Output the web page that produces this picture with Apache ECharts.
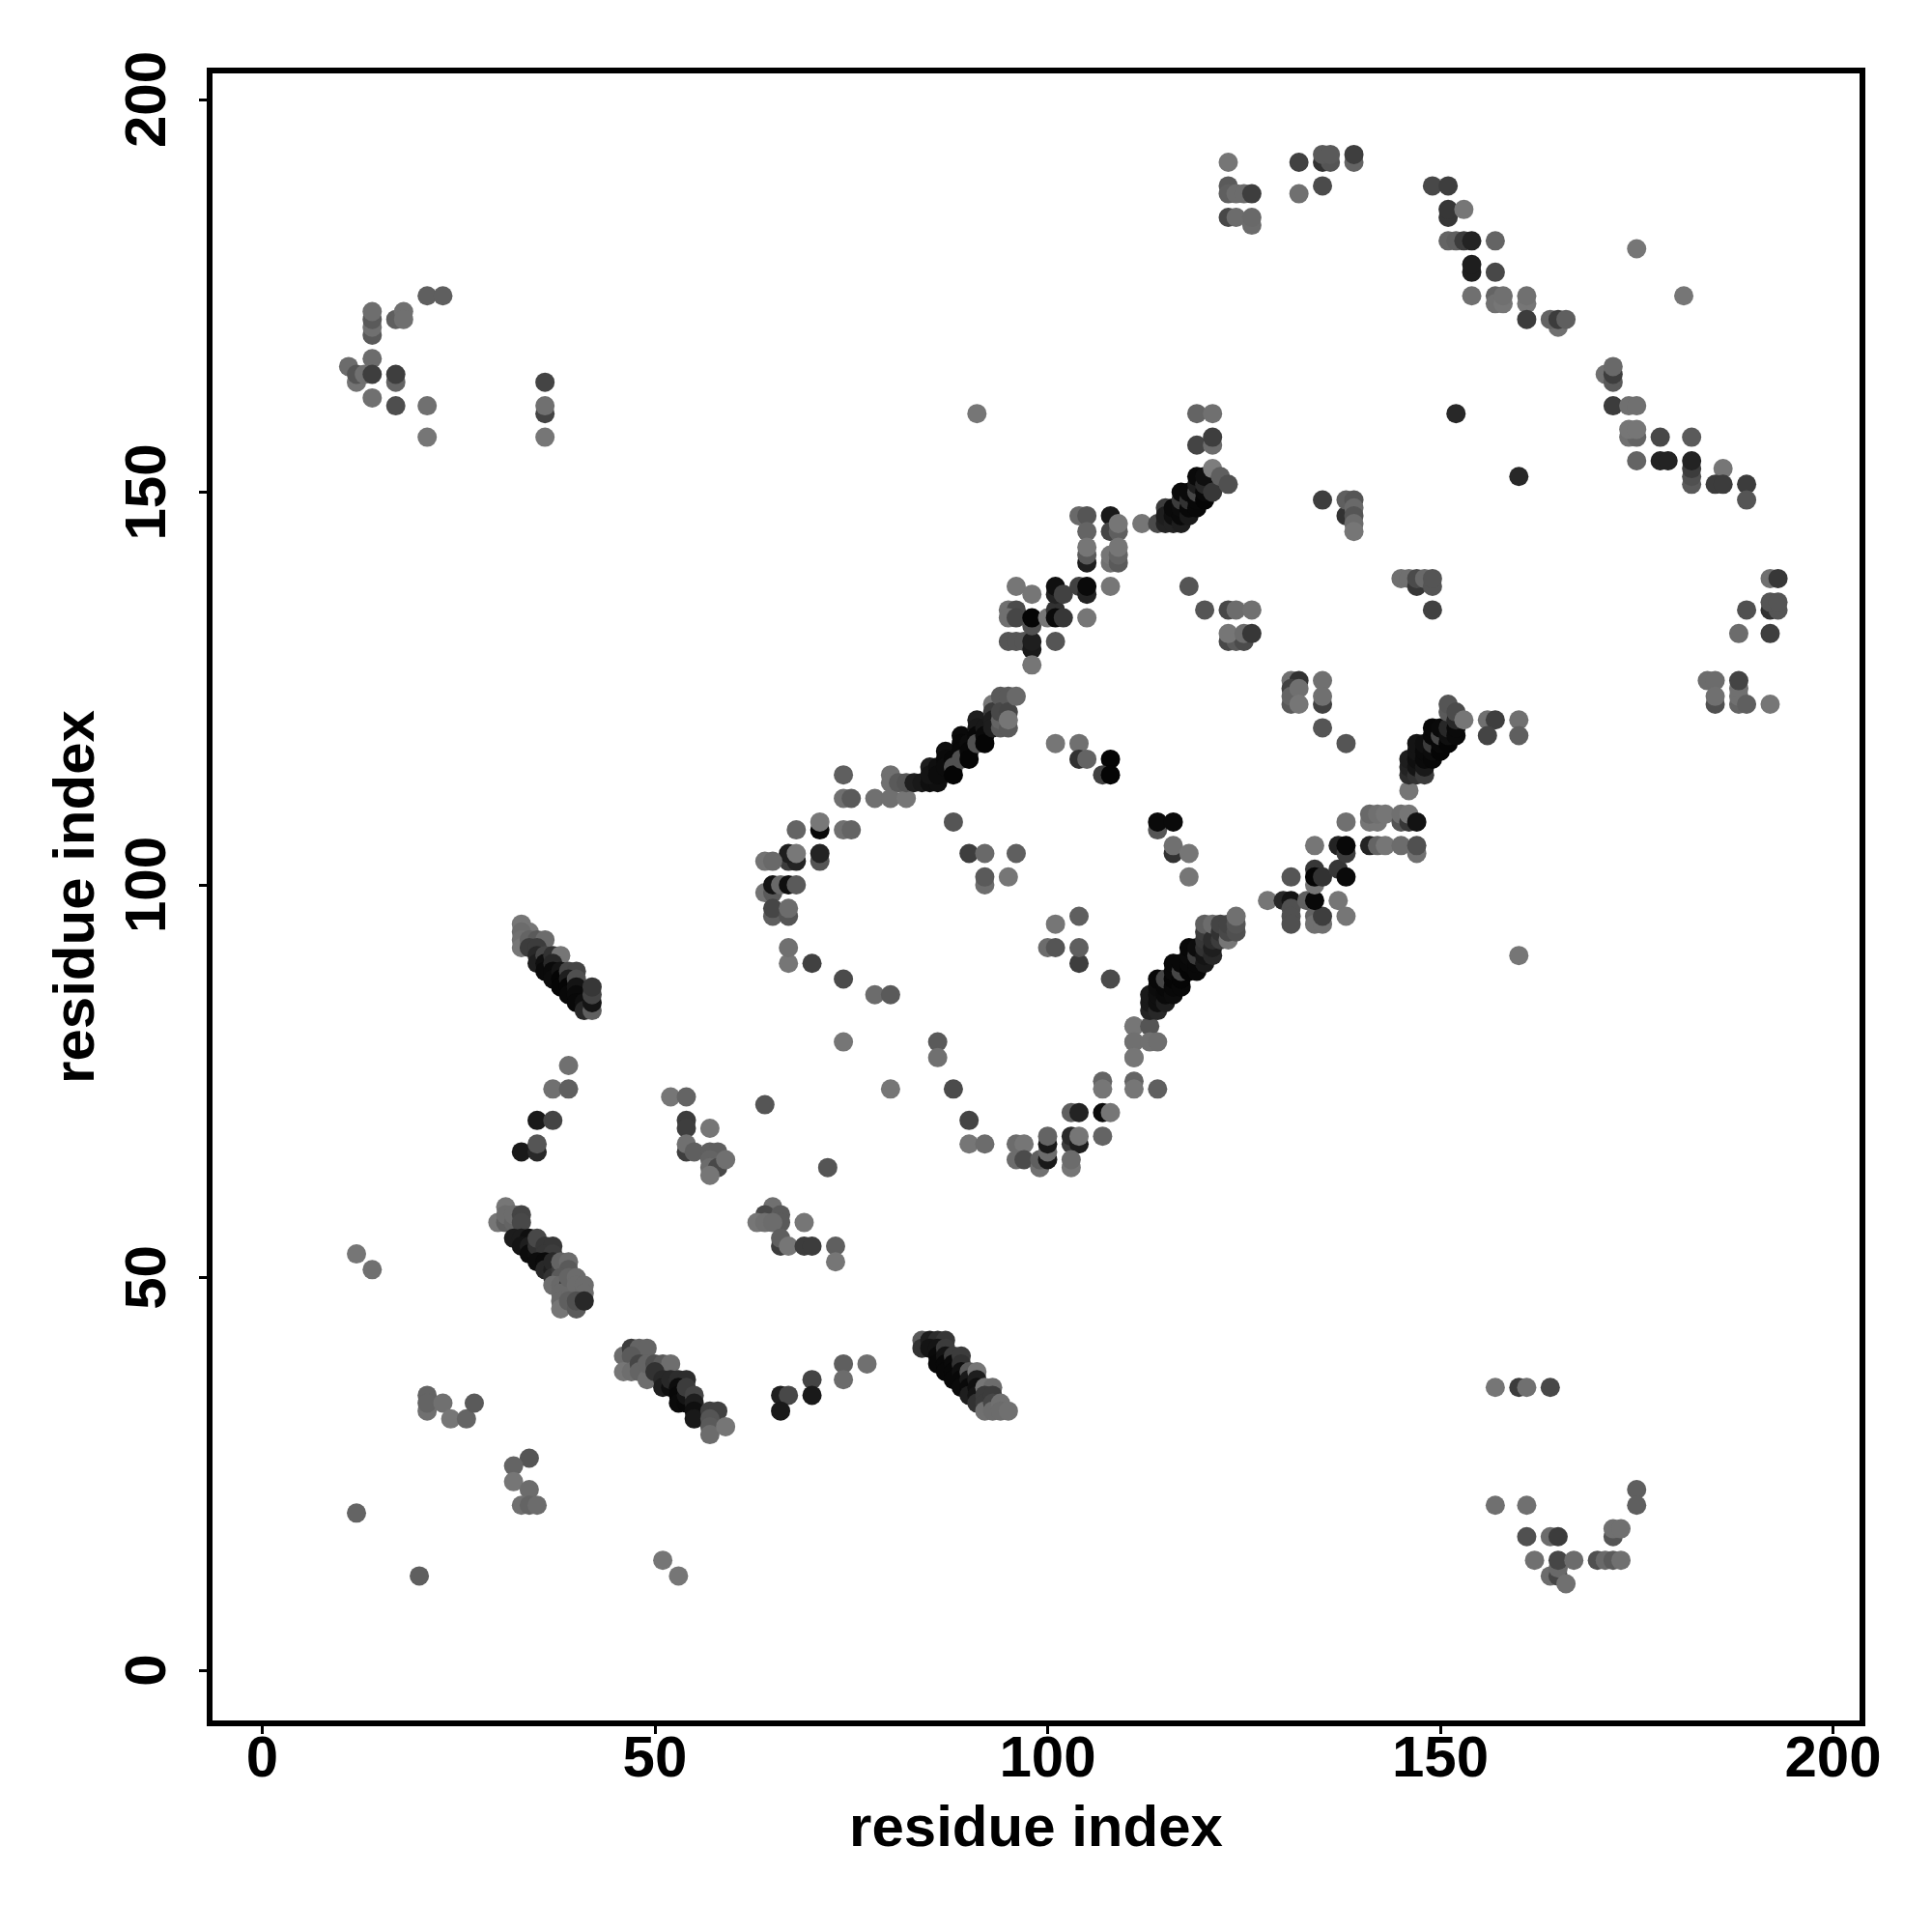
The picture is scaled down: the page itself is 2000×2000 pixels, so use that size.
<!DOCTYPE html>
<html><head><meta charset="utf-8">
<style>html,body{margin:0;padding:0;background:#fff}#c{width:2000px;height:2000px}</style>
<script src="https://cdn.jsdelivr.net/npm/echarts@6/dist/echarts.min.js"></script>
</head><body><div id="c"></div>
<script>
// each contact: [residue x, residue y, grey level of the dot]
const tickLabels = [0, 50, 100, 150, 200];
const axisTitle = 'residue index';
const topLeft = [[21,175,95],[23,175,95],[14,170,90],[14,171,112],[14,172,90],[14,173,110],[17,172,95],[18,173,112],[18,172,112],
 [14,167,108],[11,166,108],[12,164,115],[12,165,85],[13,165,112],[14,165,62],[17,164,100],[17,165,62],[14,162,112],[17,161,78],[21,161,112],[21,157,118],
 [36,164,68],[36,160,68],[36,161,112],[36,157,118]];
const lowLeft = [[12,53,118],[14,51,112],[21,35,100],[21,33,112],[21,34,100],[23,34,112],[24,32,118],[26,32,100],[27,34,90],
 [34,27,85],[32,26,100],[32,24,118],[34,23,108],[33,21,112],[34,21,100],[35,21,108],[12,20,100],[20,12,95],[51,14,118],[53,12,118]];
const bandA = [[31,59,118],[30,57,118],[31,57,95],[31,58,108],[32,57,100],[32,58,108],[33,58,68],[33,57,72],
 [32,55,28],[33,55,28],[34,55,15],[33,54,20],[34,54,30],[34,53,12],[35,53,15],[35,54,50],[35,55,72],[36,54,55],[37,54,55],[36,53,55],[37,53,60],
 [35,52,12],[36,52,10],[36,51,40],[37,51,30],[37,52,40],[37,50,50],[38,51,60],[38,52,100],[39,52,108],[39,51,90],[38,50,90],[37,49,110],[38,49,105],[39,49,60],
 [39,48,90],[38,48,105],[38,47,105],[38,46,118],[39,50,100],[40,50,108],[40,49,108],[41,49,108],[41,48,108],[39,47,95],[40,46,90],[40,47,80],[41,47,40]];
const bandB = [[46,40,108],[47,41,60],[48,41,100],[49,41,100],[47,40,90],[46,38,118],[47,38,110],[48,39,70],[48,38,100],[49,37,110],[49,39,100],
 [50,39,80],[51,39,90],[52,39,110],[50,38,50],[51,37,40],[51,36,30],[52,36,15],[52,37,40],[53,37,45],[54,37,45],[53,36,12],[53,35,8],[53,34,10],[54,34,8],[54,35,20],
 [54,36,60],[55,35,68],[55,34,30],[55,33,15],[55,32,25],[57,33,65],[58,33,65],[57,32,85],[57,31,90],[57,30,108],[59,31,118]];
const bandC = [[33,95,118],[34,94,118],[33,94,108],[33,93,112],[33,92,118],[34,93,100],[35,93,90],[36,93,108],[34,92,60],[35,92,60],[35,91,40],[35,90,30],
 [36,91,70],[36,90,15],[36,89,10],[37,91,50],[38,91,118],[37,90,40],[37,89,10],[37,88,12],[38,89,20],[38,88,5],[38,87,5],[39,89,70],[40,89,68],[39,88,30],[39,87,5],[39,86,8],
 [40,88,80],[40,87,20],[40,86,10],[40,85,8],[41,85,15],[41,84,40],[42,84,95],[42,85,20],[42,86,68],[42,87,55]];
const midLeft = [[39,77,112],[37,74,112],[39,74,95],[35,70,25],[37,70,68],[33,66,25],[35,66,40],[35,67,85],
 [52,73,118],[54,73,100],[54,70,60],[54,69,62],[57,69,118],[54,66,62],[54,67,112],[55,66,95],[57,66,95],[58,66,95],[57,65,100],[57,64,108],[58,64,72],[59,65,112],[57,63,118],
 [64,72,85],[72,64,85]];
const clusterLow = [[65,59,112],[64,58,72],[63,57,118],[64,57,112],[66,58,90],[66,57,90],[65,57,108],[69,57,118],[66,54,60],[66,55,95],[67,54,118],[69,54,60],[70,54,60],[73,54,95],[73,52,118]];
const curveLow = [[74,39,95],[77,39,112],[74,37,108],[70,37,68],[70,35,25],[66,35,30],[67,35,72],[66,33,25],
 [74,80,118],[74,88,75],[70,90,65],[67,90,118],[67,92,112],[78,86,108],[80,86,90],[86,80,90],[86,78,112],[80,74,118],[88,74,75],[90,70,68],[90,67,118],[92,67,108],
 [96,67,108],[97,67,118],[96,65,108],[97,65,75],[99,64,112],[99,65,95],[100,65,25],[100,66,108],[100,67,25],[100,68,100],
 [103,71,95],[104,71,35],[103,67,60],[103,68,42],[104,67,30],[104,68,118],[103,64,118],[103,65,108],[107,71,12],[108,71,118],[107,68,100],[107,75,100],[107,74,118],
 [111,75,100],[111,74,118],[111,78,118],[111,80,112],[111,82,118],[114,74,95]];
const bandD = [[84,42,90],[84,41,50],[85,42,30],[86,42,45],[87,42,55],[85,41,20],[86,41,20],[86,40,10],[86,39,8],[87,41,60],[87,40,20],[87,39,8],[87,38,8],
 [88,40,60],[88,39,10],[88,38,8],[88,37,8],[89,40,60],[89,39,50],[89,38,15],[89,37,8],[89,36,10],[90,38,90],[90,37,25],[90,36,10],[90,35,30],[91,38,118],[91,37,30],[91,36,15],[91,35,20],[91,34,50],
 [92,36,118],[93,36,108],[92,35,60],[92,34,60],[92,33,112],[93,35,60],[93,34,70],[93,33,108],[94,34,112],[94,33,108],[95,33,112]];
const upperLeftArc = [[74,114,95],[74,111,112],[75,111,90],[74,107,112],[75,107,100],[68,107,100],[71,107,8],[71,108,120],[67,103,60],[68,103,35],[67,104,30],[68,104,120],
 [71,103,85],[71,104,35],[64,103,115],[65,103,105],[64,99,115],[65,99,90],[65,100,20],[66,100,105],[67,100,15],[68,100,90],[65,96,95],[65,97,70],[67,96,85],[67,97,108]];
const bandE = [[78,111,112],[80,114,112],[80,113,112],[80,111,112],[82,111,118],[81,113,90],[82,113,85],[83,113,30],[84,113,25],[85,113,15],[86,113,15],[85,115,30],[85,114,20],
 [86,115,15],[86,114,12],[87,117,15],[87,116,10],[87,115,12],[88,116,8],[88,115,80],[88,114,5],[89,119,10],[89,118,8],[89,117,8],[89,116,80],[90,118,12],[90,117,8],[90,116,5],[91,121,30],
 [91,120,25],[91,119,8],[91,118,80],[92,120,25],[92,119,10],[92,118,5],[93,123,118],[93,122,60],[93,121,30],[93,120,30],[94,124,90],[94,120,90],[94,121,100],[94,122,72],[95,124,90],[95,122,70],[95,120,90],[95,121,118],[96,124,105]];
const innerA = [[88,108,85],[90,104,62],[92,104,105],[96,104,95],[92,100,110],[92,101,90],[95,101,118],[101,118,118],[104,118,112],[104,116,50],[105,116,100],[108,116,5],[107,114,65],[108,114,5],
 [101,95,118],[104,96,95],[100,92,108],[101,92,85],[104,90,62],[104,92,95],[108,88,75]];
const midCluster = [[91,160,118],[95,135,112],[96,135,75],[95,134,112],[96,134,70],[96,138,118],[98,137,118],[95,131,85],[96,131,85],[97,131,85],[98,130,25],[98,131,30],[98,133,80],[98,134,5],[100,134,118],
 [101,135,50],[101,134,10],[102,134,55],[101,137,35],[101,138,15],[102,137,65],[101,131,85],[105,134,118],[98,128,118],
 [104,138,65],[105,137,35],[105,138,10],[108,138,118],[104,147,105],[105,147,85],[105,145,100],[105,141,30],[105,142,90],[105,143,118],
 [108,147,25],[108,145,70],[109,145,95],[109,146,118],[108,141,112],[108,142,118],[109,141,90],[109,142,100],[109,143,118]];
const bandF = [[112,146,118],[114,146,75],[115,148,60],[115,146,35],[115,147,30],[116,146,35],[116,147,15],[116,148,10],[117,146,30],[117,147,10],[117,148,12],[117,149,60],[117,150,10],[118,147,25],[118,148,8],
 [118,149,50],[118,150,10],[119,148,8],[119,149,8],[119,150,70],[119,151,30],[119,152,10],[120,149,5],[120,150,8],[120,151,40],[120,152,15],[121,150,55],[121,153,125],[122,152,95],[123,151,80],
 [119,160,100],[121,160,112],[119,156,68],[121,156,108],[121,157,62],[118,138,85]];
const rightInner = [[120,135,85],[123,135,72],[124,135,108],[126,135,112],[123,131,72],[124,131,90],[125,131,75],[123,132,118],[125,132,108],[126,132,55],
 [114,107,85],[114,108,10],[116,108,10],[116,104,50],[116,105,112],[118,104,118],[118,101,118],
 [131,126,112],[132,126,50],[131,125,65],[131,123,90],[131,124,100],[132,125,112],[132,123,118],[135,126,112],[135,123,65],[135,124,112],[135,120,85],[138,118,85]];
const bandG = [[111,82,118],[111,80,112],[111,78,118],[113,82,85],[113,80,112],[114,80,110],[113,84,35],[113,85,25],[113,86,25],[114,84,40],[114,85,15],[114,86,15],[114,87,12],[114,88,8],[115,85,30],[115,86,10],[115,87,8],[115,88,70],
 [116,86,12],[116,87,8],[116,88,5],[116,89,8],[116,90,8],[117,87,8],[117,88,5],[117,89,70],[117,90,8],[118,89,5],[118,90,8],[118,91,10],[118,92,8],[119,89,8],[119,90,8],[119,91,60],[119,92,12],
 [120,90,25],[120,91,20],[120,92,50],[120,93,55],[120,94,60],[120,95,95],[121,91,40],[121,92,30],[121,93,45],[121,95,108],[122,93,60],[122,94,50],[122,95,68],[123,93,118],[123,94,72],[123,95,68],[124,94,80],[124,95,85],[124,96,112]];
const helixMid = [[128,98,118],[130,98,40],[131,98,20],[131,97,80],[131,96,80],[131,95,80],[131,101,85],[133,98,95],[134,96,100],[134,95,112],[135,95,112],[135,96,62],[134,98,8],[137,98,118],[138,96,118],
 [134,100,118],[134,102,55],[134,101,5],[135,101,50],[137,102,55],[138,101,10],[134,105,118],[137,105,35],[138,104,60],[138,105,8],[138,108,112],
 [141,105,35],[142,105,100],[143,105,118],[145,105,108],[147,104,112],[147,105,80],[141,108,118],[142,108,118],[141,109,105],[142,109,112],[143,109,118],[145,108,85],[145,109,112],[146,108,55],[146,109,118],[147,108,18],[146,112,118]];
const bandH = [[146,114,45],[146,115,35],[146,116,30],[147,114,50],[147,115,20],[147,116,15],[147,117,20],[147,118,20],[148,114,60],[148,115,25],[148,116,10],[148,117,10],[148,118,15],[149,116,8],[149,117,12],[149,118,60],[149,119,8],[149,120,8],
 [150,117,5],[150,118,8],[150,119,70],[150,120,10],[151,118,5],[151,119,15],[151,120,40],[151,122,90],[151,123,85],[152,119,10],[152,120,10],[152,121,40],[152,122,75],[153,121,118],
 [156,121,112],[157,121,62],[156,119,68],[160,121,112],[160,119,95],[160,91,118]];
const topRight = [[123,192,118],[123,189,90],[123,188,95],[124,188,108],[125,188,108],[126,188,62],[123,185,72],[124,185,108],[126,184,108],[126,185,105],
 [132,192,65],[132,188,112],[135,192,50],[136,192,85],[135,193,90],[136,193,90],[135,189,75],[139,192,100],[139,193,62],
 [149,189,72],[151,189,62],[151,185,55],[151,186,55],[153,186,118],[151,182,100],[152,182,95],[153,182,60],[154,182,35],[157,182,100],
 [154,178,30],[154,179,30],[157,178,72],[154,175,112],[157,175,100],[157,174,112],[158,174,118],[158,175,112],[161,174,118],[161,175,112],[161,172,60],
 [165,171,112],[164,172,100],[165,172,60],[166,172,95],[175,181,118],[181,175,118],
 [171,165,112],[172,164,90],[172,165,62],[172,166,105],[172,161,60],[174,161,112],[175,161,112],[174,157,112],[175,157,100],[174,158,118],[175,158,118],[178,157,72],[182,157,90],
 [175,154,100],[178,154,35],[179,154,35],[182,151,90],[182,152,80],[182,153,60],[182,154,35],[186,153,118],[185,151,60],[186,151,60],[189,151,60],[189,149,85],
 [152,160,40],[160,152,40]];
const rightCol = [[135,149,62],[138,147,50],[138,149,95],[139,149,85],[139,148,105],[139,147,85],[139,146,108],[139,145,118],
 [145,139,112],[146,139,112],[147,138,55],[147,139,75],[148,139,105],[149,138,85],[149,139,85],[149,135,65],
 [192,139,112],[193,139,55],[189,135,80],[192,135,50],[193,135,85],[192,136,85],[193,136,85],[188,132,108],[192,132,62],
 [184,126,108],[185,126,108],[185,123,80],[185,124,112],[188,123,100],[188,124,112],[188,125,112],[188,126,68],[189,123,95],[192,123,118]];
const bottomRight = [[157,36,118],[160,36,60],[161,36,112],[164,36,72],[175,23,95],[175,21,95],[157,21,112],[161,21,112],[161,17,80],[164,17,108],[165,17,60],
 [172,17,85],[172,18,112],[173,18,112],[162,14,112],[164,12,108],[165,12,70],[165,13,105],[165,14,70],[166,11,112],[167,14,108],[170,14,80],[171,14,105],[172,14,90],[173,14,112]];
const contacts = [].concat(topLeft, lowLeft, bandA, bandB, bandC, midLeft, clusterLow, curveLow, bandD, upperLeftArc, bandE, innerA, midCluster, bandF, rightInner, bandG, helixMid, bandH, topRight, rightCol, bottomRight);

const font = {fontFamily:'"Liberation Sans"', fontWeight:'bold', fontSize:60, color:'#000'};
const chart = echarts.init(document.getElementById('c'), null, {renderer:'canvas'});
chart.setOption({
  animation:false, backgroundColor:'#fff',
  grid:{left:217, top:73, width:1711, height:1711, show:true, borderColor:'#000', borderWidth:6, backgroundColor:'transparent', containLabel:false},
  xAxis:{type:'value', position:'bottom', min:-6.70, max:203.75, name:axisTitle, nameLocation:'middle', nameGap:80, nameTextStyle:font,
    splitLine:{show:false}, axisLine:{show:false, onZero:false},
    axisTick:{show:true, length:11, lineStyle:{color:'#000',width:3}, customValues:tickLabels},
    axisLabel:Object.assign({margin:8, customValues:tickLabels, hideOverlap:false}, font)},
  yAxis:{type:'value', position:'left', min:-6.77, max:203.69, name:axisTitle, nameLocation:'middle', nameGap:107, nameTextStyle:font, nameRotate:90,
    splitLine:{show:false}, axisLine:{show:false, onZero:false},
    axisTick:{show:true, length:11, lineStyle:{color:'#000',width:3}, customValues:tickLabels},
    axisLabel:Object.assign({margin:33, rotate:90, customValues:tickLabels, hideOverlap:false}, font)},
  series:[{type:'scatter', symbol:'circle', symbolSize:20, silent:true, data:contacts, clip:false,
    itemStyle:{opacity:1, color:function(p){const g=p.data[2];return 'rgb('+g+','+g+','+g+')';}}}]
});
</script></body></html>
